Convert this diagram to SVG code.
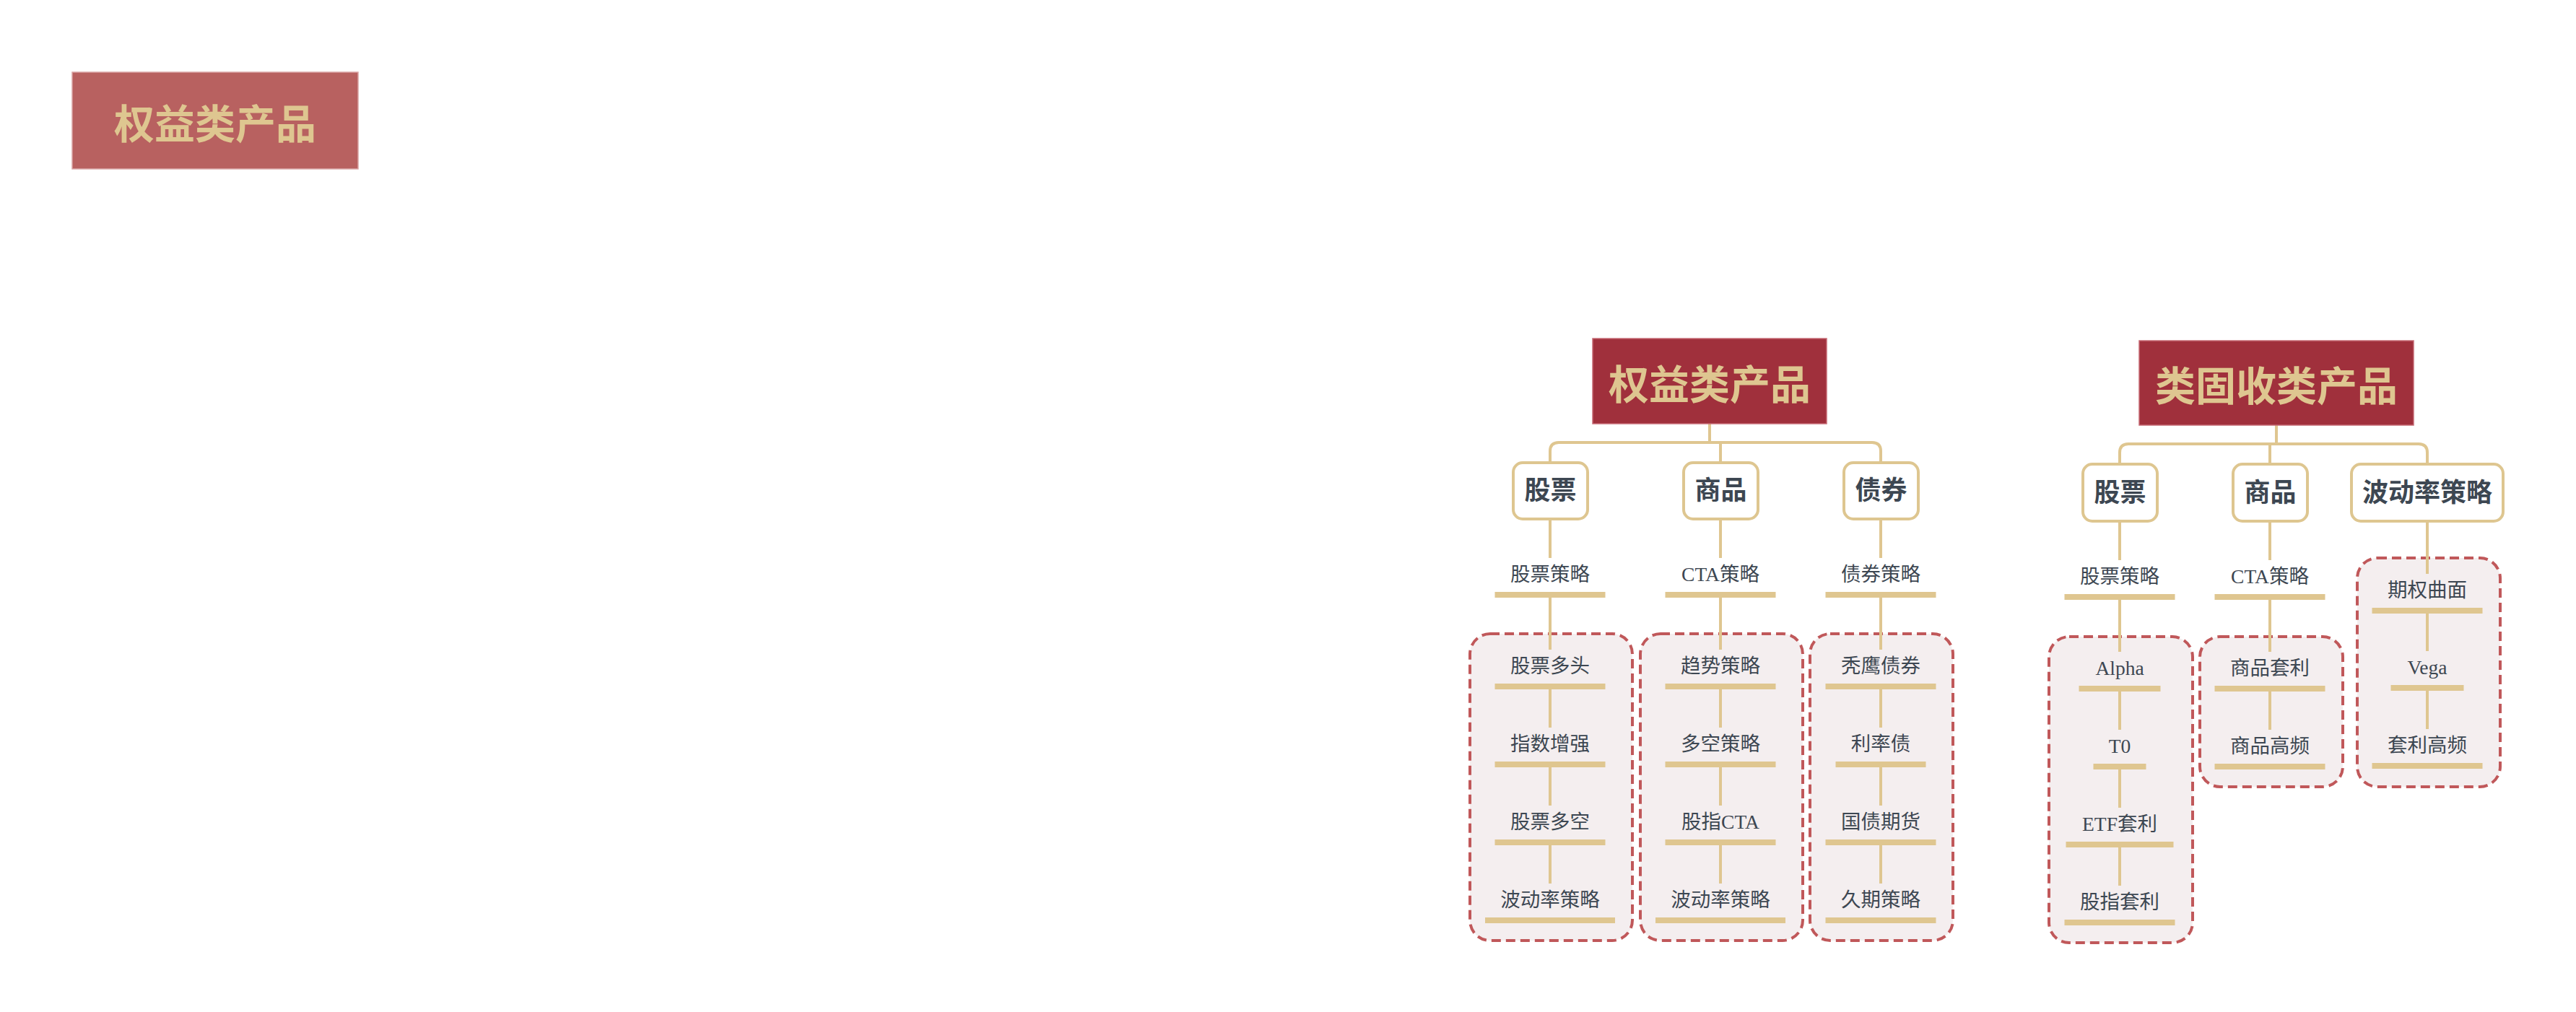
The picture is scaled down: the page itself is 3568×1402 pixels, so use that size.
<svg xmlns="http://www.w3.org/2000/svg" width="3568" height="1402" viewBox="0 0 3568 1402">
<style>
.bg{fill:#ffffff}
.tbox{fill:#A0303C;stroke:#C66A74;stroke-width:1.5}
.ttxt{font-family:"Noto Sans CJK SC",sans-serif;font-size:56px;font-weight:700;fill:#DEC690;text-anchor:middle;dominant-baseline:central}
.cat{fill:#ffffff;stroke:#DEC690;stroke-width:4}
.ctxt{font-family:"Liberation Serif","Noto Sans CJK SC",serif;font-size:36px;font-weight:700;fill:#3D4752;text-anchor:middle;dominant-baseline:central}
.itxt{font-family:"Liberation Serif","Noto Sans CJK SC",serif;font-size:27.5px;fill:#3D4752;text-anchor:middle;dominant-baseline:central}
.bar{fill:#DFC690}
.grp{fill:#F4EEEF;stroke:#C0585A;stroke-width:4;stroke-dasharray:13 7}
.conn{fill:none;stroke:#DFC690;stroke-width:4}
</style>
<rect class="bg" x="0" y="0" width="3568" height="1402"/>

<g id="badge">
<rect x="100" y="100" width="396" height="134" fill="#B86160" stroke="#D9A3A3" stroke-width="1.5"/>
<text x="298" y="167" class="ttxt" font-size="55">权益类产品</text>
</g>

<g id="groups">
<rect id="grp-L1" class="grp" x="2036" y="878" width="225" height="425" rx="28"/>
<rect id="grp-L2" class="grp" x="2272" y="878" width="225" height="425" rx="28"/>
<rect id="grp-L3" class="grp" x="2507" y="878" width="198" height="425" rx="28"/>
<rect id="grp-R1" class="grp" x="2838" y="882" width="199" height="424" rx="28"/>
<rect id="grp-R2" class="grp" x="3047" y="882" width="198" height="208" rx="28"/>
<rect id="grp-R3" class="grp" x="3265" y="773" width="198" height="317" rx="28"/>
</g>

<g id="connectors">
<path class="conn" d="M2368,587 V613"/>
<path class="conn" d="M2147,641 V625 Q2147,613 2159,613 H2593 Q2605,613 2605,625 V641"/>
<path class="conn" d="M2383,613 V641"/>
<path class="conn" d="M2147,719 V773 M2147,828 V900 M2147,955 V1008 M2147,1063 V1116 M2147,1171 V1224"/>
<path class="conn" d="M2383,719 V773 M2383,828 V900 M2383,955 V1008 M2383,1063 V1116 M2383,1171 V1224"/>
<path class="conn" d="M2605,719 V773 M2605,828 V900 M2605,955 V1008 M2605,1063 V1116 M2605,1171 V1224"/>
<path class="conn" d="M3153,589 V615"/>
<path class="conn" d="M2936,643 V627 Q2936,615 2948,615 H3350 Q3362,615 3362,627 V643"/>
<path class="conn" d="M3144,615 V643"/>
<path class="conn" d="M2936,722 V776 M2936,831 V903 M2936,958 V1011 M2936,1066 V1119 M2936,1174 V1227"/>
<path class="conn" d="M3144,722 V776 M3144,831 V903 M3144,958 V1011"/>
<path class="conn" d="M3362,722 V795 M3362,850 V902 M3362,957 V1010"/>
</g>

<g id="title-L">
<rect class="tbox" x="2206" y="469" width="324" height="118"/>
<text class="ttxt" x="2368" y="528">权益类产品</text>
</g>
<g id="title-R">
<rect class="tbox" x="2963" y="472" width="380" height="117"/>
<text class="ttxt" x="3153" y="530.5">类固收类产品</text>
</g>

<g id="cat-L1"><rect class="cat" x="2096" y="641" width="103" height="78" rx="13"/><text class="ctxt" x="2147.5" y="680">股票</text></g>
<g id="cat-L2"><rect class="cat" x="2332" y="641" width="103" height="78" rx="13"/><text class="ctxt" x="2383.5" y="680">商品</text></g>
<g id="cat-L3"><rect class="cat" x="2554" y="641" width="103" height="78" rx="13"/><text class="ctxt" x="2605.5" y="680">债券</text></g>
<g id="cat-R1"><rect class="cat" x="2885" y="643" width="103" height="79" rx="13"/><text class="ctxt" x="2936.5" y="682.5">股票</text></g>
<g id="cat-R2"><rect class="cat" x="3093" y="643" width="103" height="79" rx="13"/><text class="ctxt" x="3144.5" y="682.5">商品</text></g>
<g id="cat-R3"><rect class="cat" x="3257" y="643" width="210" height="79" rx="13"/><text class="ctxt" x="3362" y="682.5">波动率策略</text></g>

<g id="L1-0"><text class="itxt" x="2147" y="795">股票策略</text><rect class="bar" x="2070.5" y="820" width="153" height="8"/></g>
<g id="L1-1"><text class="itxt" x="2147" y="922">股票多头</text><rect class="bar" x="2070.5" y="947" width="153" height="8"/></g>
<g id="L1-2"><text class="itxt" x="2147" y="1030">指数增强</text><rect class="bar" x="2070.5" y="1055" width="153" height="8"/></g>
<g id="L1-3"><text class="itxt" x="2147" y="1138">股票多空</text><rect class="bar" x="2070.5" y="1163" width="153" height="8"/></g>
<g id="L1-4"><text class="itxt" x="2147" y="1246">波动率策略</text><rect class="bar" x="2057" y="1271" width="180" height="8"/></g>

<g id="L2-0"><text class="itxt" x="2383" y="795">CTA策略</text><rect class="bar" x="2306.5" y="820" width="153" height="8"/></g>
<g id="L2-1"><text class="itxt" x="2383" y="922">趋势策略</text><rect class="bar" x="2306.5" y="947" width="153" height="8"/></g>
<g id="L2-2"><text class="itxt" x="2383" y="1030">多空策略</text><rect class="bar" x="2306.5" y="1055" width="153" height="8"/></g>
<g id="L2-3"><text class="itxt" x="2383" y="1138">股指CTA</text><rect class="bar" x="2306.5" y="1163" width="153" height="8"/></g>
<g id="L2-4"><text class="itxt" x="2383" y="1246">波动率策略</text><rect class="bar" x="2293" y="1271" width="180" height="8"/></g>

<g id="L3-0"><text class="itxt" x="2605" y="795">债券策略</text><rect class="bar" x="2528.5" y="820" width="153" height="8"/></g>
<g id="L3-1"><text class="itxt" x="2605" y="922">秃鹰债券</text><rect class="bar" x="2528.5" y="947" width="153" height="8"/></g>
<g id="L3-2"><text class="itxt" x="2605" y="1030">利率债</text><rect class="bar" x="2542.5" y="1055" width="125" height="8"/></g>
<g id="L3-3"><text class="itxt" x="2605" y="1138">国债期货</text><rect class="bar" x="2528.5" y="1163" width="153" height="8"/></g>
<g id="L3-4"><text class="itxt" x="2605" y="1246">久期策略</text><rect class="bar" x="2528.5" y="1271" width="153" height="8"/></g>

<g id="R1-0"><text class="itxt" x="2936" y="798">股票策略</text><rect class="bar" x="2859.5" y="823" width="153" height="8"/></g>
<g id="R1-1"><text class="itxt" x="2936" y="925">Alpha</text><rect class="bar" x="2879.5" y="950" width="113" height="8"/></g>
<g id="R1-2"><text class="itxt" x="2936" y="1033">T0</text><rect class="bar" x="2899.5" y="1058" width="73" height="8"/></g>
<g id="R1-3"><text class="itxt" x="2936" y="1141">ETF套利</text><rect class="bar" x="2861.5" y="1166" width="149" height="8"/></g>
<g id="R1-4"><text class="itxt" x="2936" y="1249">股指套利</text><rect class="bar" x="2859.5" y="1274" width="153" height="8"/></g>

<g id="R2-0"><text class="itxt" x="3144" y="798">CTA策略</text><rect class="bar" x="3067.5" y="823" width="153" height="8"/></g>
<g id="R2-1"><text class="itxt" x="3144" y="925">商品套利</text><rect class="bar" x="3067.5" y="950" width="153" height="8"/></g>
<g id="R2-2"><text class="itxt" x="3144" y="1033">商品高频</text><rect class="bar" x="3067.5" y="1058" width="153" height="8"/></g>

<g id="R3-1"><text class="itxt" x="3362" y="817">期权曲面</text><rect class="bar" x="3285.5" y="842" width="153" height="8"/></g>
<g id="R3-2"><text class="itxt" x="3362" y="924">Vega</text><rect class="bar" x="3311.5" y="949" width="101" height="8"/></g>
<g id="R3-3"><text class="itxt" x="3362" y="1032">套利高频</text><rect class="bar" x="3285.5" y="1057" width="153" height="8"/></g>
</svg>
